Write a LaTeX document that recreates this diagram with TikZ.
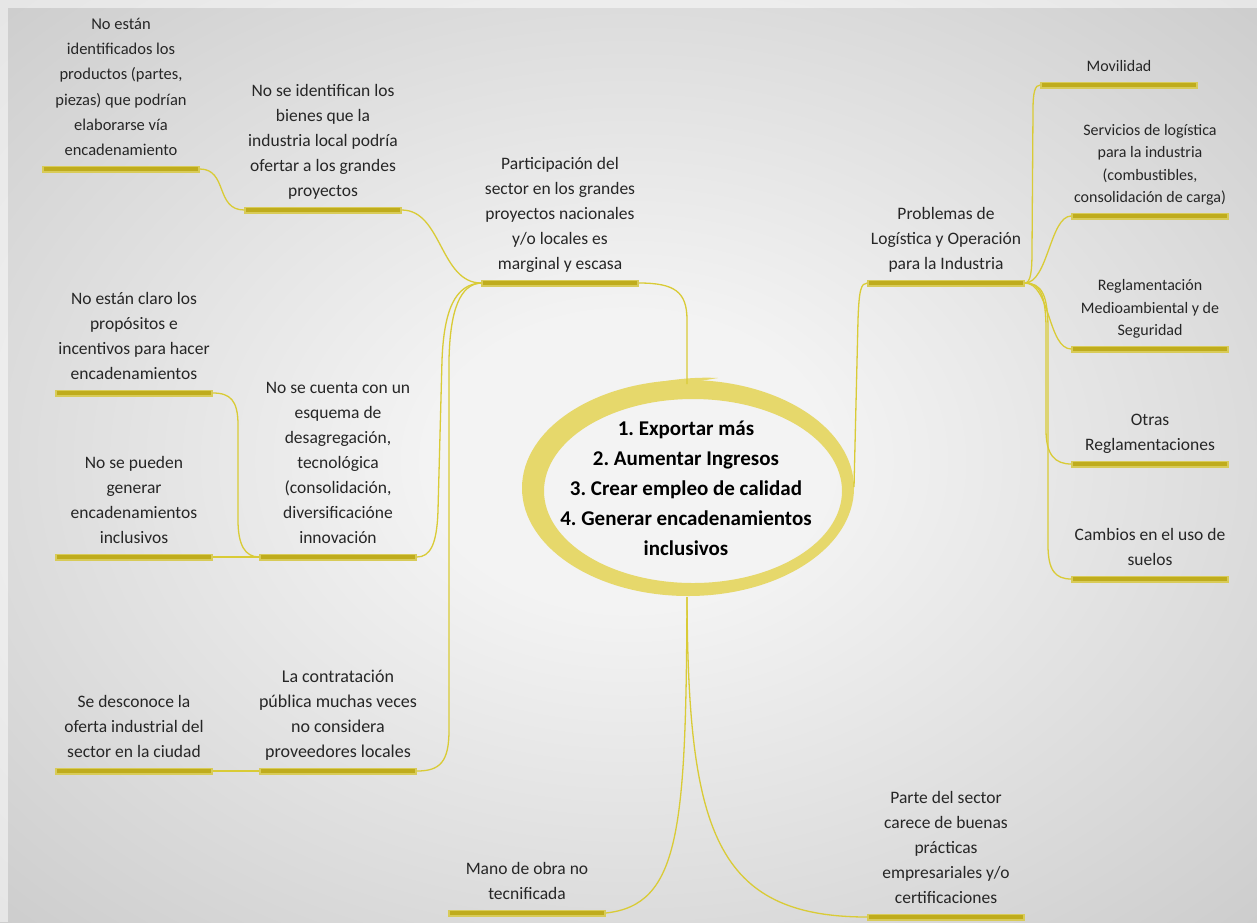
\documentclass[tikz,border=0pt]{standalone}
\usepackage{fontspec}
\setmainfont{Carlito}
\frenchspacing
\definecolor{txtcol}{HTML}{262626}
\definecolor{barcol}{HTML}{BFAC1D}
\definecolor{barglow}{HTML}{D8CB58}
\definecolor{linkcol}{HTML}{D9CB36}
\definecolor{ringcol}{HTML}{E6D86B}
\definecolor{bgin}{HTML}{F3F3F3}
\definecolor{bgout}{HTML}{CFCFCF}
\definecolor{bgdark}{HTML}{B8B8B8}
\pgfdeclareradialshading{bgshade}{\pgfpoint{0bp}{0bp}}{color(0bp)=(bgin); color(8bp)=(bgin); color(34bp)=(bgout); color(50bp)=(bgdark)}
\tikzset{
  txt/.style={anchor=south, align=center, inner sep=0pt, text depth=0pt, text=txtcol, font=\fontsize{17.5}{25}\selectfont},
  txts/.style={txt, font=\fontsize{16}{22.5}\selectfont},
  bar/.style={rectangle, minimum width=156pt, minimum height=5.5pt, inner sep=0pt, fill=barcol, draw=barglow, line width=1.5pt},
  link/.style={draw=linkcol, line width=1.3pt},
}
\begin{document}
\begin{tikzpicture}[x=1pt,y=-1pt]
\useasboundingbox (0,0) rectangle (1257,922);
\shade[shading=bgshade] (0,0) rectangle (1257,922);
\fill[white,opacity=.5] (0,0) rectangle (1257,8);
\fill[white,opacity=.5] (0,8) rectangle (8,922);

% central ring
\fill[ringcol,even odd rule] (688,488) ellipse [x radius=166pt, y radius=108pt]
      (693,491) ellipse [x radius=149pt, y radius=92pt];
\fill[ringcol] (596,402) .. controls (635,384) and (680,376) .. (718,378)
      .. controls (680,384) and (640,392) .. (612,404) -- cycle;
\node[align=center, inner sep=0pt, text=black, font=\fontsize{21}{30}\selectfont\bfseries] (core) at (686,488)
  {1. Exportar más\\2. Aumentar Ingresos\\3. Crear empleo de calidad\\4. Generar encadenamientos\\inclusivos};
\coordinate (ringT) at (687,384);
\coordinate (ringR) at (854,487);
\coordinate (ringB) at (687,597);

% bars
\node[bar] (bT1) at (121,169) {};
\node[bar] (bT2) at (323,210) {};
\node[bar] (bP)  at (560,283) {};
\node[bar] (bL1) at (134,393) {};
\node[bar] (bL2) at (134,557) {};
\node[bar] (bC)  at (338,557) {};
\node[bar] (bS)  at (134,771) {};
\node[bar] (bK)  at (338,771) {};
\node[bar] (bM)  at (527,913) {};
\node[bar] (bQ)  at (946,917) {};
\node[bar] (bR)  at (946,283) {};
\node[bar] (bR1) at (1119,85) {};
\node[bar] (bR2) at (1150,216) {};
\node[bar] (bR3) at (1150,349) {};
\node[bar] (bR4) at (1150,464) {};
\node[bar] (bR5) at (1150,579) {};

% texts
\node[txt, font=\fontsize{16.5}{25.3}\selectfont] (tT1) at (121,156) {No están\\identificados los\\productos (partes,\\piezas) que podrían\\elaborarse vía\\encadenamiento};
\node[txt] (tT2) at (323,197) {No se identifican los\\bienes que la\\industria local podría\\ofertar a los grandes\\proyectos};
\node[txt] (tP) at (560,270) {Participación del\\sector en los grandes\\proyectos nacionales\\y/o locales es\\marginal y escasa};
\node[txt] (tL1) at (134,380) {No están claro los\\propósitos e\\incentivos para hacer\\encadenamientos};
\node[txt] (tL2) at (134,544) {No se pueden\\generar\\encadenamientos\\inclusivos};
\node[txt] (tC) at (338,544) {No se cuenta con un\\esquema de\\desagregación,\\tecnológica\\(consolidación,\\diversificacióne\\innovación};
\node[txt] (tS) at (134,758) {Se desconoce la\\oferta industrial del\\sector en la ciudad};
\node[txt, font=\fontsize{18}{25}\selectfont] (tK) at (338,758) {La contratación\\pública muchas veces\\no considera\\proveedores locales};
\node[txt] (tM) at (527,900) {Mano de obra no\\tecnificada};
\node[txt] (tQ) at (946,904) {Parte del sector\\carece de buenas\\prácticas\\empresariales y/o\\certificaciones};
\node[txt] (tR) at (946,270) {Problemas de\\Logística y Operación\\para la Industria};
\node[txts] (tR1) at (1119,72) {Movilidad};
\node[txts] (tR2) at (1150,203) {Servicios de logística\\para la industria\\(combustibles,\\consolidación de carga)};
\node[txts] (tR3) at (1150,336) {Reglamentación\\Medioambiental y de\\Seguridad};
\node[txt] (tR4) at (1150,451) {Otras\\Reglamentaciones};
\node[txt] (tR5) at (1150,566) {Cambios en el uso de\\suelos};

% connectors
\draw[link] (bT1.east) .. controls (228,169) and (215,210) .. (bT2.west);
\draw[link] (bT2.east) .. controls (442,210) and (440,283) .. (bP.west);
\draw[link] (bP.west) .. controls (455,284) and (444,310) .. (442,360) -- (438,510) .. controls (437,545) and (430,557) .. (bC.east);
\draw[link] (bP.west) .. controls (460,284) and (450,310) .. (449,360) -- (449,730) .. controls (449,762) and (440,771) .. (bK.east);
\draw[link] (bC.west) .. controls (245,557) and (238,545) .. (238,520) -- (238,425) .. controls (238,400) and (230,393) .. (bL1.east);
\draw[link] (bC.west) -- (bL2.east);
\draw[link] (bK.west) -- (bS.east);
\draw[link] (bP.east) .. controls (675,283) and (687,292) .. (687,320) -- (ringT);
\draw[link] (ringR) -- (858,320) .. controls (859,290) and (861,283) .. (bR.west);
\draw[link] (ringB) .. controls (686,830) and (680,905) .. (bM.east);
\draw[link] (ringB) .. controls (688,830) and (715,917) .. (bQ.west);
\draw[link] (bR.east) .. controls (1031,283) and (1032,270) .. (1032,250) -- (1033,110) .. controls (1033,92) and (1035,85) .. (bR1.west);
\draw[link] (bR.east) .. controls (1048,283) and (1050,216) .. (bR2.west);
\draw[link] (bR.east) .. controls (1050,283) and (1048,349) .. (bR3.west);
\draw[link] (bR.east) .. controls (1040,283) and (1046,295) .. (1046,330) -- (1046,430) .. controls (1046,455) and (1055,464) .. (bR4.west);
\draw[link] (bR.east) .. controls (1042,283) and (1048,295) .. (1048,330) -- (1048,545) .. controls (1048,570) and (1055,579) .. (bR5.west);
\end{tikzpicture}
\end{document}
